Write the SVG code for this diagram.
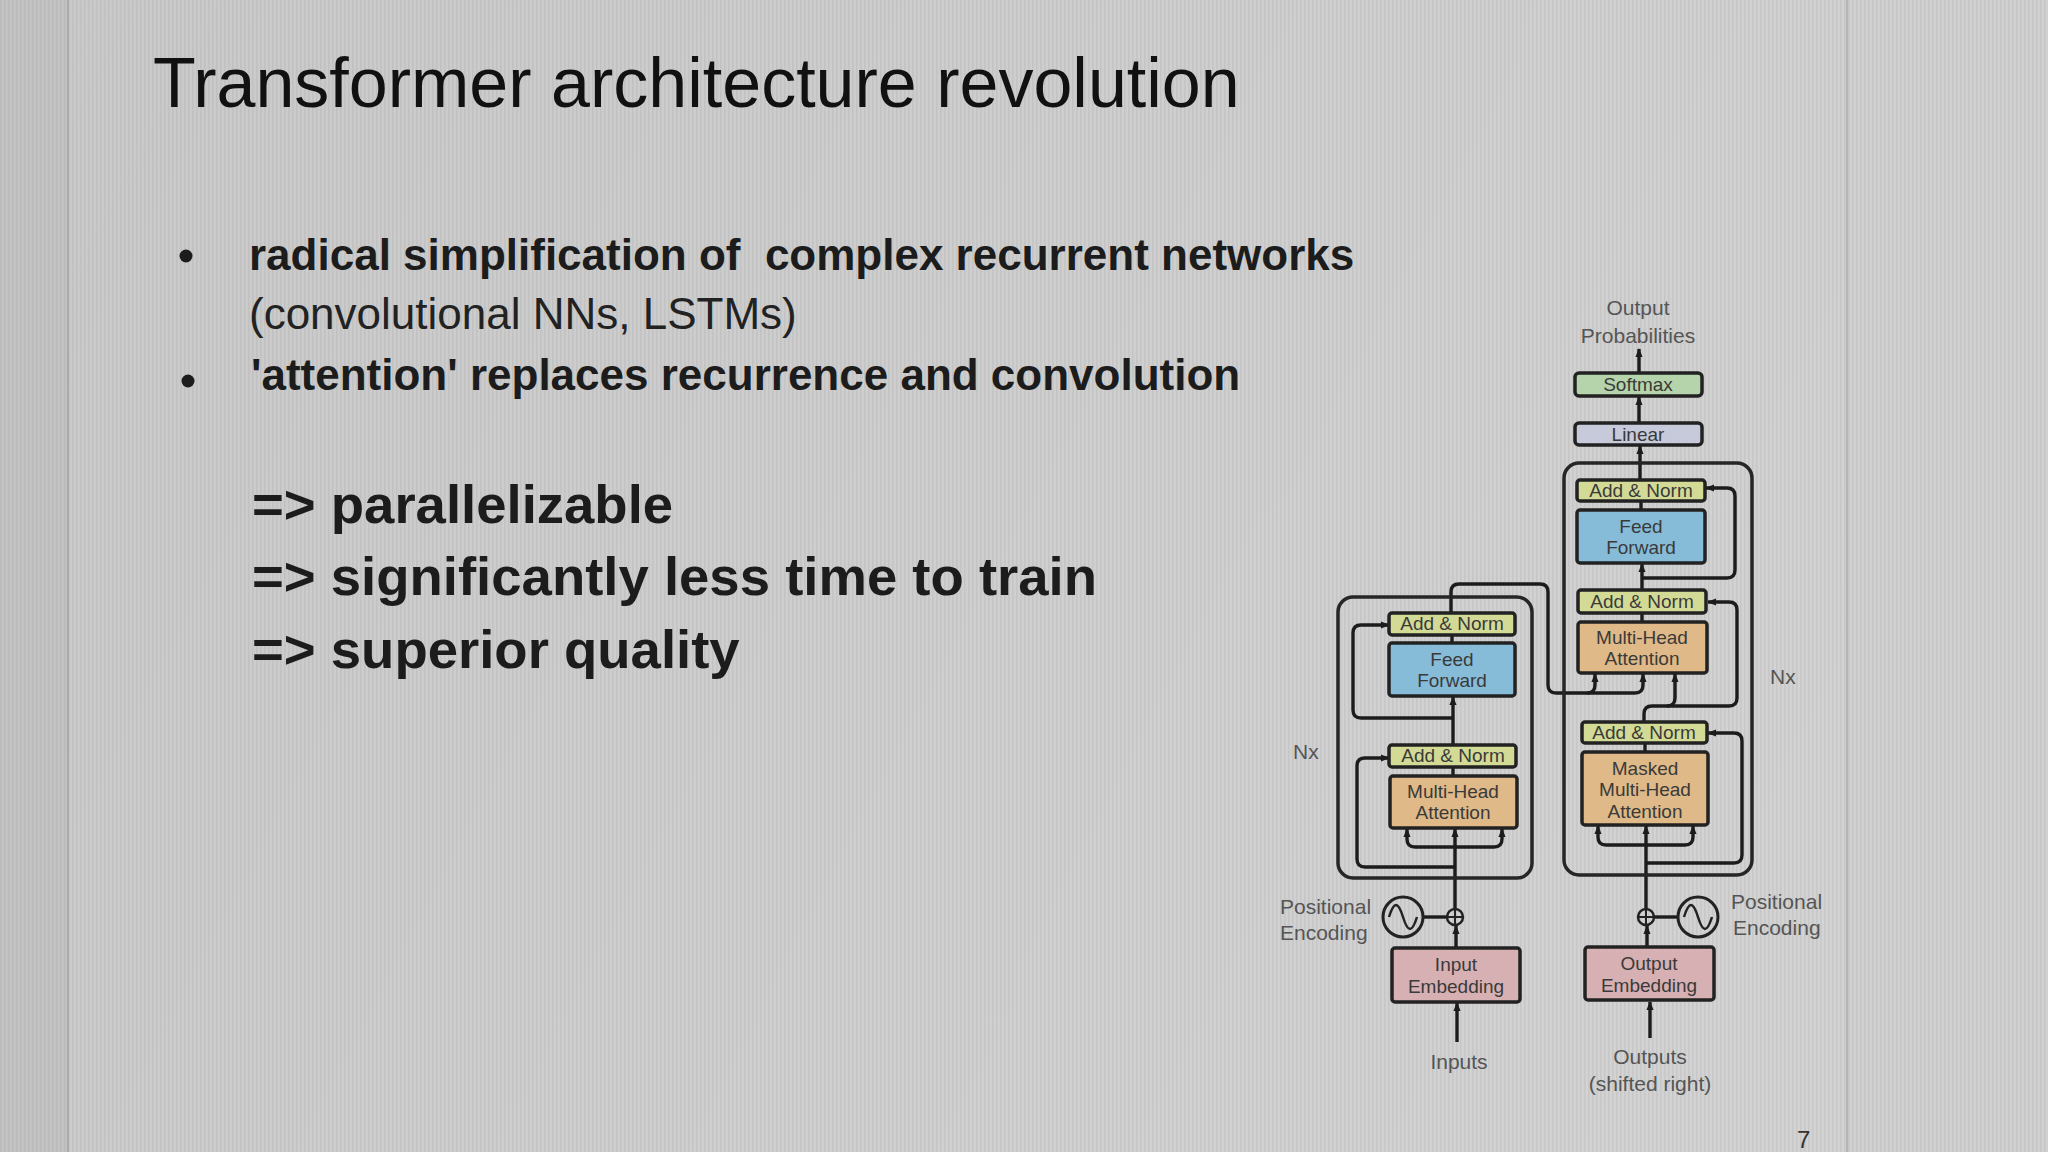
<svg xmlns="http://www.w3.org/2000/svg" width="2048" height="1152" viewBox="0 0 2048 1152">
<defs>
<linearGradient id="bg" x1="0" y1="0" x2="1" y2="0.3">
<stop offset="0" stop-color="#c9c9c9"/>
<stop offset="0.5" stop-color="#cecece"/>
<stop offset="1" stop-color="#d3d3d3"/>
</linearGradient>
<pattern id="stripes" width="4" height="16" patternUnits="userSpaceOnUse">
<rect x="0" y="0" width="1.6" height="16" fill="#9a9a9a" fill-opacity="0.2"/>
</pattern>
<marker id="ah" viewBox="0 0 10 10" refX="9" refY="5" markerWidth="9" markerHeight="9" markerUnits="userSpaceOnUse" orient="auto">
<path d="M0,1 L10,5 L0,9 z" fill="#1c1c1c"/>
</marker>
<style>
.title{font-family:"Liberation Sans",Arial,sans-serif;font-size:70px;fill:#111}
.b{font-family:"Liberation Sans",Arial,sans-serif;font-size:44px;font-weight:bold;fill:#1c1c1c}
.r{font-family:"Liberation Sans",Arial,sans-serif;font-size:44px;fill:#222}
.big{font-family:"Liberation Sans",Arial,sans-serif;font-size:54.5px;font-weight:bold;fill:#1c1c1c}
.lbl{font-family:"Liberation Sans",Arial,sans-serif;font-size:21px;fill:#555}
.bx{font-family:"Liberation Sans",Arial,sans-serif;font-size:19px;fill:#3a3a3a;text-anchor:middle}
.box{stroke:#222;stroke-width:3.5}
.an{fill:#d3da96}
.ff{fill:#86bcd8}
.mha{fill:#dfb987}
.emb{fill:#d6b0b2}
.sm{fill:#b5d4ab}
.lin{fill:#c7cadb}
.outer{fill:none;stroke:#262626;stroke-width:3.5}
.c{fill:none;stroke:#1c1c1c;stroke-width:3.4}
.a{fill:none;stroke:#1c1c1c;stroke-width:3.4;marker-end:url(#ah)}
</style>
</defs>

<g id="background">
<rect x="0" y="0" width="2048" height="1152" fill="url(#bg)"/>
<rect x="0" y="0" width="68" height="1152" fill="#c3c3c3"/>
<rect x="1847" y="0" width="201" height="1152" fill="#d0d0d0"/>
<rect x="0" y="0" width="2048" height="1152" fill="url(#stripes)"/>
<line x1="68" y1="0" x2="68" y2="1152" stroke="#ababab" stroke-width="2"/>
<line x1="1847" y1="0" x2="1847" y2="1152" stroke="#b6b6b6" stroke-width="2"/>
</g>

<g id="slide-text">
<text class="title" x="153" y="107">Transformer architecture revolution</text>
<circle cx="186" cy="256" r="6.5" fill="#1c1c1c"/>
<text class="b" x="249" y="270" xml:space="preserve">radical simplification of  complex recurrent networks</text>
<text class="r" x="249" y="329">(convolutional NNs, LSTMs)</text>
<circle cx="188" cy="381" r="6.5" fill="#1c1c1c"/>
<text class="b" x="251" y="390">'attention' replaces recurrence and convolution</text>
<text class="big" x="252" y="523">=&gt; parallelizable</text>
<text class="big" x="252" y="595">=&gt; significantly less time to train</text>
<text class="big" x="252" y="668">=&gt; superior quality</text>
<text x="1797" y="1148" font-family="Liberation Sans,Arial,sans-serif" font-size="24" fill="#333">7</text>
</g>

<g id="connectors">
<path class="a" d="M1639,373 V349"/>
<path class="a" d="M1639,423 V397"/>
<path class="a" d="M1640,480 V446"/>
<path class="c" d="M1641,510 V501"/>
<path class="a" d="M1642,590 V564"/>
<path class="a" d="M1642,578 H1727 Q1735,578 1735,570 V496 Q1735,488 1727,488 H1706"/>
<path class="c" d="M1642,622 V613"/>
<path class="a" d="M1451,613 V592 Q1451,584 1459,584 H1540 Q1548,584 1548,592 V685 Q1548,693 1556,693 H1635 Q1643,693 1643,685 V674"/>
<path class="a" d="M1587,693 Q1595,693 1595,685 V674"/>
<path class="a" d="M1644,722 V714 Q1644,706 1652,706 H1729 Q1737,706 1737,698 V610 Q1737,602 1729,602 H1708"/>
<path class="a" d="M1667,706 Q1675,706 1675,698 V674"/>
<path class="c" d="M1645,752 V743"/>
<path class="a" d="M1646,909 V826"/>
<path class="a" d="M1646,845 H1606 Q1598,845 1598,837 V826"/>
<path class="a" d="M1646,845 H1685 Q1693,845 1693,837 V826"/>
<path class="a" d="M1646,863 H1734 Q1742,863 1742,855 V741 Q1742,733 1734,733 H1708"/>
<path class="a" d="M1647,947 V926"/>
<path class="a" d="M1650,1038 V1002"/>
<path class="c" d="M1452,643 V635"/>
<path class="a" d="M1453,745 V697"/>
<path class="a" d="M1453,718 H1361 Q1353,718 1353,710 V633 Q1353,625 1361,625 H1389"/>
<path class="c" d="M1453,776 V767"/>
<path class="a" d="M1455,909 V829"/>
<path class="a" d="M1455,847 H1415 Q1407,847 1407,839 V829"/>
<path class="a" d="M1455,847 H1494 Q1502,847 1502,839 V829"/>
<path class="a" d="M1455,867 H1365 Q1357,867 1357,859 V766 Q1357,758 1365,758 H1389"/>
<path class="a" d="M1456,948 V926"/>
<path class="a" d="M1457,1042 V1003"/>
<path class="c" d="M1423,917 H1447"/>
<path class="c" d="M1654,917 H1678"/>
</g>

<g id="encoder-block"><rect class="outer" x="1338" y="597" width="194" height="281" rx="15"/></g>
<g id="decoder-block"><rect class="outer" x="1564" y="463" width="188" height="412" rx="15"/></g>

<g id="output-probabilities">
<text class="lbl" x="1638" y="315" text-anchor="middle">Output</text>
<text class="lbl" x="1638" y="343" text-anchor="middle">Probabilities</text>
</g>
<g id="softmax"><rect class="box sm" x="1575" y="373" width="127" height="23" rx="4"/><text class="bx" x="1638" y="391">Softmax</text></g>
<g id="linear"><rect class="box lin" x="1575" y="423" width="127" height="22" rx="4"/><text class="bx" x="1638" y="441">Linear</text></g>
<g id="dec-add-norm-3"><rect class="box an" x="1577" y="480" width="128" height="21" rx="3"/><text class="bx" x="1641" y="497">Add &amp; Norm</text></g>
<g id="dec-feed-forward"><rect class="box ff" x="1577" y="510" width="128" height="53" rx="3"/><text class="bx" x="1641" y="533">Feed</text><text class="bx" x="1641" y="554">Forward</text></g>
<g id="dec-add-norm-2"><rect class="box an" x="1578" y="590" width="128" height="23" rx="3"/><text class="bx" x="1642" y="608">Add &amp; Norm</text></g>
<g id="dec-multi-head-attention"><rect class="box mha" x="1578" y="622" width="129" height="51" rx="3"/><text class="bx" x="1642" y="644">Multi-Head</text><text class="bx" x="1642" y="665">Attention</text></g>
<g id="dec-add-norm-1"><rect class="box an" x="1582" y="722" width="125" height="21" rx="3"/><text class="bx" x="1644" y="739">Add &amp; Norm</text></g>
<g id="masked-multi-head-attention"><rect class="box mha" x="1582" y="752" width="126" height="73" rx="3"/><text class="bx" x="1645" y="775">Masked</text><text class="bx" x="1645" y="796">Multi-Head</text><text class="bx" x="1645" y="818">Attention</text></g>

<g id="enc-add-norm-2"><rect class="box an" x="1389" y="613" width="126" height="22" rx="3"/><text class="bx" x="1452" y="630">Add &amp; Norm</text></g>
<g id="enc-feed-forward"><rect class="box ff" x="1389" y="643" width="126" height="53" rx="3"/><text class="bx" x="1452" y="666">Feed</text><text class="bx" x="1452" y="687">Forward</text></g>
<g id="enc-add-norm-1"><rect class="box an" x="1389" y="745" width="127" height="22" rx="3"/><text class="bx" x="1453" y="762">Add &amp; Norm</text></g>
<g id="enc-multi-head-attention"><rect class="box mha" x="1390" y="776" width="127" height="52" rx="3"/><text class="bx" x="1453" y="798">Multi-Head</text><text class="bx" x="1453" y="819">Attention</text></g>

<g id="nx-left"><text class="lbl" x="1293" y="759" font-size="20">Nx</text></g>
<g id="nx-right"><text class="lbl" x="1770" y="684" font-size="20">Nx</text></g>

<g id="enc-positional-encoding">
<circle cx="1403" cy="917" r="20" fill="none" stroke="#222" stroke-width="3"/>
<path d="M1389,917 C1394,901 1398,901 1403,917 C1408,933 1412,933 1417,917" fill="none" stroke="#222" stroke-width="2.5"/>
<circle cx="1455" cy="917" r="8" fill="none" stroke="#222" stroke-width="2.5"/>
<path d="M1447,917 H1463 M1455,909 V925" stroke="#222" stroke-width="2"/>
<text class="lbl" x="1280" y="914">Positional</text>
<text class="lbl" x="1280" y="940">Encoding</text>
</g>
<g id="dec-positional-encoding">
<circle cx="1698" cy="917" r="20" fill="none" stroke="#222" stroke-width="3"/>
<path d="M1684,917 C1689,901 1693,901 1698,917 C1703,933 1707,933 1712,917" fill="none" stroke="#222" stroke-width="2.5"/>
<circle cx="1646" cy="917" r="8" fill="none" stroke="#222" stroke-width="2.5"/>
<path d="M1638,917 H1654 M1646,909 V925" stroke="#222" stroke-width="2"/>
<text class="lbl" x="1731" y="909">Positional</text>
<text class="lbl" x="1733" y="935">Encoding</text>
</g>

<g id="input-embedding"><rect class="box emb" x="1392" y="948" width="128" height="54" rx="3"/><text class="bx" x="1456" y="971">Input</text><text class="bx" x="1456" y="993">Embedding</text></g>
<g id="output-embedding"><rect class="box emb" x="1585" y="947" width="129" height="53" rx="3"/><text class="bx" x="1649" y="970">Output</text><text class="bx" x="1649" y="992">Embedding</text></g>

<g id="inputs"><text class="lbl" x="1459" y="1069" text-anchor="middle">Inputs</text></g>
<g id="outputs">
<text class="lbl" x="1650" y="1064" text-anchor="middle">Outputs</text>
<text class="lbl" x="1650" y="1091" text-anchor="middle">(shifted right)</text>
</g>
</svg>
